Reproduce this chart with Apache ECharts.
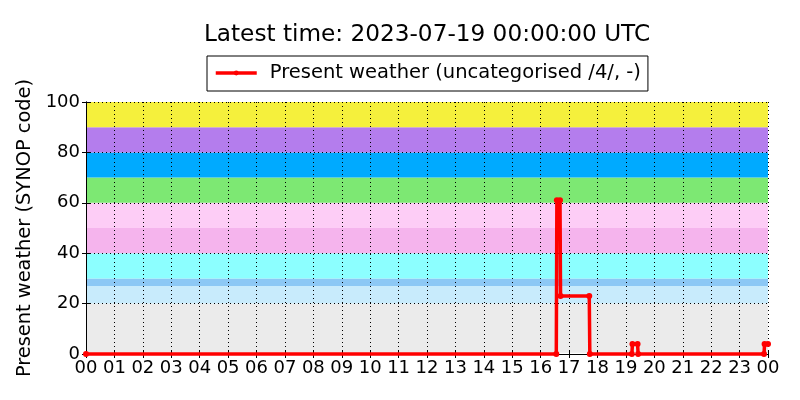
<!DOCTYPE html>
<html>
<head>
<meta charset="utf-8">
<script src="https://cdn.jsdelivr.net/npm/echarts@6/dist/echarts.min.js"></script>
<style>html,body{margin:0;padding:0;background:#fff}#c{width:800px;height:400px}</style>
</head>
<body>
<div id="c"></div>
<script>
const titleText = 'Latest time: 2023-07-19 00:00:00 UTC';
const seriesName = 'Present weather (uncategorised /4/, -)';
const yAxisName = 'Present weather (SYNOP code)';
const xTickLabels = ['00','01','02','03','04','05','06','07','08','09','10','11','12','13','14','15','16','17','18','19','20','21','22','23','00'];
// time in hours since 2023-07-18 00:00 UTC
const times  = [0, 16.55, 16.57, 16.68, 16.70, 17.71, 17.73, 19.21, 19.23, 19.41, 19.43, 23.86, 23.88, 24];
const values = [0, 0,     61,    61,    23,    23,    0,     0,     4,     4,     0,     0,     4,     4];
// background bands (SYNOP code ranges)
const bandLo     = [0.5, 20, 27, 30, 40, 50, 60, 70, 80, 90];
const bandHi     = [20, 27, 30, 40, 50, 60, 70, 80, 90, 100];
const bandColors = ['#ebebeb','#c8ebfc','#8cc8f5','#8cffff','#f5b4ed','#fdcdf6','#7de873','#00aaff','#b47ded','#f5f03c'];

const font = 'DejaVu Sans';
const chart = echarts.init(document.getElementById('c'), null, {renderer: 'canvas'});
const lineData = times.map((t, i) => [t, values[i]]);
const bandData = bandLo.map((lo, i) => [
  {yAxis: lo, itemStyle: {color: bandColors[i], opacity: 1}},
  {yAxis: bandHi[i]}
]);
const tickStyle = {show: true, inside: true, length: 4, lineStyle: {color: '#000', width: 1}};
const axisLine = {show: true, lineStyle: {color: '#000', width: 1}};
const gridDots = {show: true, lineStyle: {color: '#000', width: 1, type: [1, 3]}};
chart.setOption({
  animation: false,
  graphic: [{
    type: 'text', x: 427, y: 35,
    style: {text: titleText, font: '23.2px "' + font + '"', fill: '#000', textAlign: 'center', textVerticalAlign: 'middle'}
  }],
  legend: {
    data: [seriesName], left: 207, top: 56,
    padding: [7, 7, 8, 7], itemWidth: 41, itemHeight: 6,
    borderColor: '#000', borderWidth: 1, borderRadius: 0,
    lineStyle: {width: 3.5},
    textStyle: {fontFamily: font, fontSize: 19.5, color: '#000', padding: [0, 0, 0, 8]}
  },
  grid: {left: 86, right: 32, top: 102, bottom: 46, containLabel: false},
  xAxis: [{
    type: 'value', min: 0, max: 24, interval: 1, z: 10,
    axisLine: axisLine, axisTick: tickStyle,
    axisLabel: {color: '#000', fontFamily: font, fontSize: 18, margin: 5,
      formatter: v => xTickLabels[Math.round(v)]},
    splitLine: gridDots
  }, {
    type: 'value', position: 'top', min: 0, max: 24, interval: 1, z: 10,
    axisLine: axisLine, axisTick: tickStyle, axisLabel: {show: false}, splitLine: {show: false}
  }],
  yAxis: [{
    type: 'value', min: 0, max: 100, interval: 20, z: 10,
    name: yAxisName, nameLocation: 'middle', nameGap: 47,
    nameTextStyle: {fontFamily: font, fontSize: 19.4, color: '#000'},
    axisLine: axisLine, axisTick: tickStyle,
    axisLabel: {color: '#000', fontFamily: font, fontSize: 18, margin: 6},
    splitLine: gridDots
  }, {
    type: 'value', position: 'right', min: 0, max: 100, interval: 20, z: 10,
    axisLine: axisLine, axisTick: tickStyle, axisLabel: {show: false}, splitLine: {show: false}
  }],
  series: [{
    type: 'line', name: 'bands', data: [], z: 1, silent: true,
    markArea: {silent: true, data: bandData}
  }, {
    type: 'line', name: seriesName, data: lineData, z: 20, clip: false,
    symbol: 'circle', symbolSize: 6, showSymbol: true,
    lineStyle: {color: '#ff0000', width: 3.5},
    itemStyle: {color: '#ff0000'}
  }]
});
</script>
</body>
</html>
